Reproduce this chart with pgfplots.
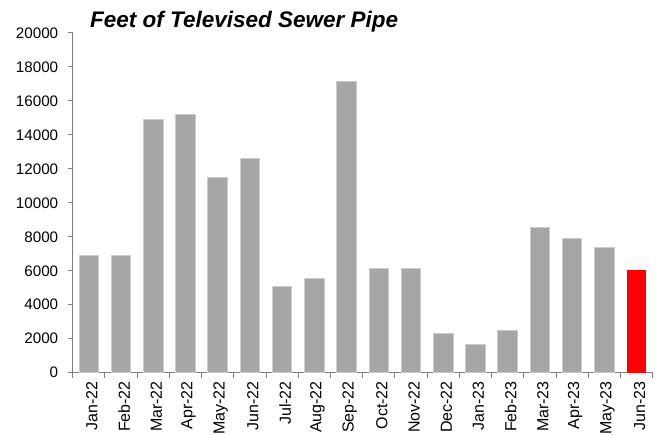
\documentclass[border=0pt]{standalone}
\usepackage{pgfplots}
\pgfplotsset{compat=1.18}
\usepackage{fontspec}
\setmainfont{Liberation Sans}
\definecolor{bargray}{HTML}{A6A6A6}
\definecolor{baredge}{HTML}{CCCCCC}
\definecolor{axgray}{HTML}{7F7F7F}
\begin{document}
\begin{tikzpicture}
\begin{axis}[
  at={(0,0)}, anchor=south west,
  scale only axis, width=580bp, height=339.7bp,
  xmin=-0.5, xmax=17.5, ymin=0, ymax=20000,
  axis x line*=bottom, axis y line*=left,
  axis line style={axgray, line width=1bp, -},
  xtick={0,...,17},
  xticklabels={Jan-22,Feb-22,Mar-22,Apr-22,May-22,Jun-22,Jul-22,Aug-22,Sep-22,Oct-22,Nov-22,Dec-22,Jan-23,Feb-23,Mar-23,Apr-23,May-23,Jun-23},
  major x tick style={draw=none},
  minor xtick={-0.5,0.5,...,17.5},
  minor tick length=5bp,
  major tick length=5bp,
  ytick={0,2000,...,20000},
  tick align=outside,
  tick style={axgray, line width=1bp},
  xticklabel style={rotate=90, anchor=east, yshift=-3bp, font=\fontsize{16bp}{16bp}\selectfont},
  yticklabel style={xshift=-6bp, font=\fontsize{15.2bp}{16bp}\selectfont, /pgf/number format/.cd, fixed, 1000 sep={}},
  /pgf/number format/assume math mode=true,
  scaled y ticks=false,
  clip=false,
]
\addplot[ybar, bar width=19.5bp, bar shift=0pt, fill=bargray, draw=baredge, line width=1bp]
  coordinates {(0,6900) (1,6880) (2,14900) (3,15200) (4,11500) (5,12600) (6,5050) (7,5550) (8,17150) (9,6150) (10,6150) (11,2300) (12,1650) (13,2500) (14,8550) (15,7900) (16,7400)};
\addplot[ybar, bar width=19.5bp, bar shift=0pt, fill=red, draw=none]
  coordinates {(17,6050)};
\end{axis}
\node[anchor=base west, inner sep=0, font=\fontsize{22.5bp}{24bp}\selectfont\bfseries\itshape] at (17.3bp,344.7bp) {Feet of Televised Sewer Pipe};
\pgfresetboundingbox
\path[use as bounding box] (-72.7bp,-62.3bp) rectangle (586.3bp,372.7bp);
\end{tikzpicture}
\end{document}
